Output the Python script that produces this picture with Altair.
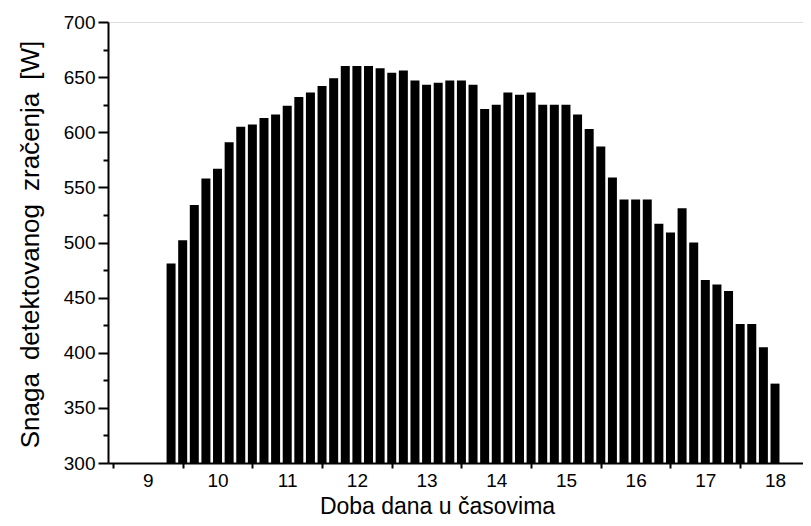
import altair as alt
import pandas as pd

# Measurement times (hh:mm) and detected radiation power [W]
times = [
    "9:20", "9:30", "9:40", "9:50",
    "10:00", "10:10", "10:20", "10:30", "10:40", "10:50",
    "11:00", "11:10", "11:20", "11:30", "11:40", "11:50",
    "12:00", "12:10", "12:20", "12:30", "12:40", "12:50",
    "13:00", "13:10", "13:20", "13:30", "13:40", "13:50",
    "14:00", "14:10", "14:20", "14:30", "14:40", "14:50",
    "15:00", "15:10", "15:20", "15:30", "15:40", "15:50",
    "16:00", "16:10", "16:20", "16:30", "16:40", "16:50",
    "17:00", "17:10", "17:20", "17:30", "17:40", "17:50",
    "18:00",
]
power = [
    481, 502, 534, 558,
    567, 591, 605, 607, 613, 616,
    624, 632, 636, 642, 649, 660,
    660, 660, 658, 654, 656, 647,
    643, 645, 647, 647, 643, 621,
    625, 636, 634, 636, 625, 625,
    625, 616, 603, 587, 559, 539,
    539, 539, 517, 509, 531, 500,
    466, 462, 456, 426, 426, 405,
    372,
]
x_axis_values = [8.5, 9, 9.5, 10, 10.5, 11, 11.5, 12, 12.5, 13, 13.5,
                 14, 14.5, 15, 15.5, 16, 16.5, 17, 17.5, 18]
y_axis_values = [300, 325, 350, 375, 400, 425, 450, 475, 500, 525, 550,
                 575, 600, 625, 650, 675, 700]


def to_hours(t):
    h, m = t.split(":")
    return int(h) + int(m) / 60.0


df = pd.DataFrame({"t": [to_hours(t) for t in times], "p": power})

FONT = "Liberation Sans"
WIDE = "\u2002"  # wider word gap as in the original

x_axis = alt.Axis(
    values=x_axis_values,
    labelExpr="datum.value % 1 === 0 ? format(datum.value, 'd') : ''",
    tickColor={"condition": {"test": "datum.value % 1 === 0", "value": "transparent"},
               "value": "black"},
    tickSize=5,
    tickWidth=2,
    domainWidth=2,
    domainColor="black",
    labelFont=FONT,
    labelFontSize=19,
    labelColor="black",
    labelPadding=3,
    labelFlush=False,
    grid=False,
    title="Doba dana u časovima",
    titleFont=FONT,
    titleFontSize=23,
    titleFontWeight="normal",
    titleColor="black",
    titleX=329,
    titleY=43,
    titleAlign="center",
    titleBaseline="middle",
)

y_axis = alt.Axis(
    values=y_axis_values,
    labelExpr="datum.value % 50 === 0 ? datum.label : ''",
    tickSize={"condition": {"test": "datum.value % 50 === 0", "value": 10},
              "value": 5},
    tickWidth=2,
    tickColor="black",
    domainWidth=2,
    domainColor="black",
    labelFont=FONT,
    labelFontSize=19,
    labelColor="black",
    labelPadding=3,
    labelFlush=False,
    grid=False,
    title=f"Snaga{WIDE}detektovanog{WIDE}zračenja{WIDE}[W]",
    titleFont=FONT,
    titleFontSize=26,
    titleFontWeight="normal",
    titleColor="black",
    titleX=-78,
    titleY=222,
    titleAngle=-90,
    titleAlign="center",
    titleBaseline="middle",
)

chart = (
    alt.Chart(df)
    .mark_bar(color="black", size=9)
    .encode(
        x=alt.X("t:Q", scale=alt.Scale(domain=[8.5, 18.33], nice=False, zero=False), axis=x_axis),
        y=alt.Y("p:Q", scale=alt.Scale(domain=[300, 700], nice=False, zero=False), axis=y_axis),
        y2=alt.datum(300),
    )
    .properties(
        width=695,
        height=441,
        autosize=alt.AutoSizeParams(type="none"),
        padding={"left": 100, "top": 14, "right": 0, "bottom": 55},
    )
    .configure_view(stroke=None)
    .configure(background="white")
)

chart.save("out.html", embed_options={"renderer": "svg", "actions": False})
